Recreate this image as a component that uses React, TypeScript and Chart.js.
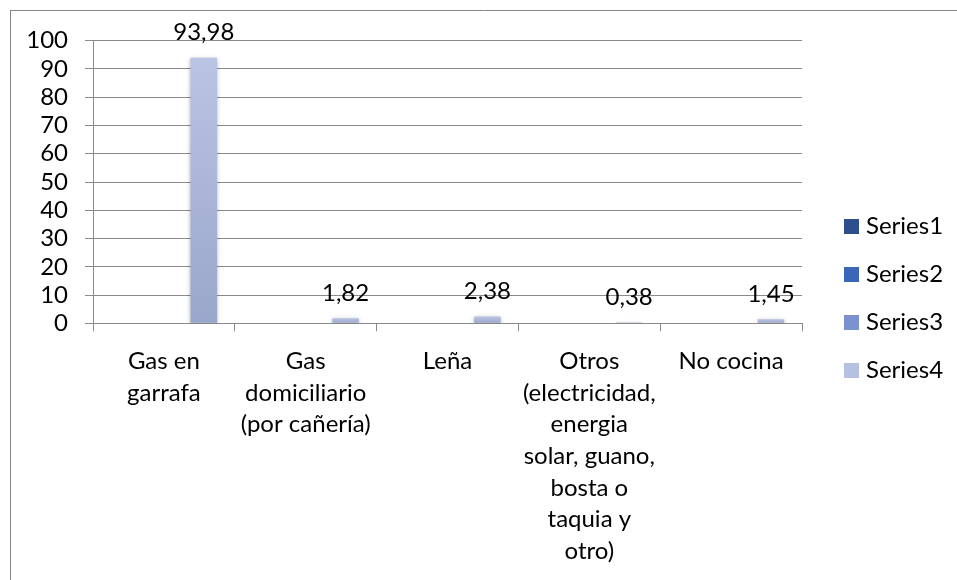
import React, { useEffect, useRef } from 'react';
import { Chart, registerables } from 'chart.js';

Chart.register(...registerables);

// ---- data ----
const categories: string[][] = [
  ['Gas en', 'garrafa'],
  ['Gas', 'domiciliario', '(por cañería)'],
  ['Leña'],
  ['Otros', '(electricidad,', 'energia', 'solar, guano,', 'bosta o', 'taquia y', 'otro)'],
  ['No cocina'],
];
const seriesNames = ['Series1', 'Series2', 'Series3', 'Series4'];
const series1: (number | null)[] = [null, null, null, null, null];
const series2: (number | null)[] = [null, null, null, null, null];
const series3: (number | null)[] = [null, null, null, null, null];
const series4: (number | null)[] = [93.98, 1.82, 2.38, 0.38, 1.45];
const yMin = 0;
const yMax = 100;
const yStep = 10;

// ---- styles ----
const FONT = 'Lato, "Open Sans", sans-serif';
const FONT_SIZE = 24;
const GRID = '#8a8a8a';
const legendColors = ['#2e4d8d', '#3c67b9', '#7a92cf', '#b6c1e1'];
const barTop = '#bac4e4';
const barBottom = '#9aa6cb';

function fmt(v: number) {
  return v.toFixed(2).replace('.', ',');
}

const framePlugin = {
  id: 'frame',
  beforeDraw(chart: any) {
    const ctx = chart.ctx;
    ctx.save();
    ctx.fillStyle = '#ffffff';
    ctx.fillRect(0, 0, chart.width, chart.height);
    ctx.strokeStyle = '#878787';
    ctx.lineWidth = 1;
    ctx.beginPath();
    ctx.moveTo(10, 10.5);
    ctx.lineTo(chart.width, 10.5);
    ctx.moveTo(10.5, 10);
    ctx.lineTo(10.5, chart.height);
    ctx.stroke();
    ctx.restore();
  },
};

const shadowPlugin = {
  id: 'barShadow',
  beforeDatasetDraw(chart: any) {
    const ctx = chart.ctx;
    ctx.save();
    ctx.shadowColor = 'rgba(0,0,0,0.28)';
    ctx.shadowBlur = 4;
    ctx.shadowOffsetX = 0;
    ctx.shadowOffsetY = 1;
  },
  afterDatasetDraw(chart: any) {
    chart.ctx.restore();
  },
};

const valueLabelPlugin = {
  id: 'valueLabels',
  afterDatasetsDraw(chart: any) {
    const ctx = chart.ctx;
    ctx.save();
    ctx.font = `${FONT_SIZE}px ${FONT}`;
    ctx.fillStyle = '#000';
    ctx.textAlign = 'center';
    ctx.textBaseline = 'middle';
    chart.data.datasets.forEach((ds: any, di: number) => {
      const meta = chart.getDatasetMeta(di);
      meta.data.forEach((el: any, i: number) => {
        const v = ds.data[i];
        if (v === null || v === undefined) return;
        ctx.fillText(fmt(v), el.x, el.y - 25);
      });
    });
    ctx.restore();
  },
};

const legendPlugin = {
  id: 'sideLegend',
  afterDraw(chart: any) {
    const ctx = chart.ctx;
    const x = chart.chartArea.right + 42;
    const firstY = 226.5;
    const gap = 48;
    const box = 15;
    ctx.save();
    ctx.font = `${FONT_SIZE}px ${FONT}`;
    ctx.textBaseline = 'middle';
    ctx.textAlign = 'left';
    chart.data.datasets.forEach((ds: any, i: number) => {
      const y = firstY + i * gap;
      ctx.fillStyle = legendColors[i];
      ctx.fillRect(x, y - box / 2, box, box);
      ctx.fillStyle = '#000';
      ctx.fillText(ds.label, x + box + 7, y);
    });
    ctx.restore();
  },
};

function barGradient(c: any) {
  const chart = c.chart;
  if (c.type !== 'data' || !chart.chartArea || c.raw == null) return barTop;
  const ys = chart.scales.y;
  const top = ys.getPixelForValue(c.raw);
  const bottom = ys.getPixelForValue(0);
  if (!isFinite(top) || bottom - top < 1) return barTop;
  const g = chart.ctx.createLinearGradient(0, top, 0, bottom);
  g.addColorStop(0, barTop);
  g.addColorStop(1, barBottom);
  return g;
}

export default function App() {
  const ref = useRef<HTMLCanvasElement | null>(null);

  useEffect(() => {
    if (!ref.current) return;
    const allSeries = [series1, series2, series3, series4];
    const chart = new Chart(ref.current, {
      type: 'bar',
      data: {
        labels: categories,
        datasets: allSeries.map((d, i) => ({
          label: seriesNames[i],
          data: d,
          backgroundColor: i === 3 ? barGradient : legendColors[i],
          borderWidth: 0,
          barPercentage: 1,
          categoryPercentage: 0.75,
        })),
      },
      options: {
        responsive: false,
        animation: false,
        devicePixelRatio: 1,
        layout: { padding: { top: 40.7, right: 155, bottom: 0, left: 0 } },
        plugins: {
          legend: { display: false },
          tooltip: { enabled: false },
          title: { display: false },
        },
        scales: {
          x: {
            grid: {
              offset: true,
              drawOnChartArea: false,
              drawTicks: true,
              tickLength: 8,
              color: GRID,
            },
            border: { display: true, color: GRID, width: 1 },
            ticks: {
              autoSkip: false,
              maxRotation: 0,
              minRotation: 0,
              padding: 14,
              color: '#000',
              font: { family: FONT, size: FONT_SIZE, lineHeight: 1.32 },
            },
            afterFit(scale: any) {
              scale.height = 580 - 323.3;
            },
          },
          y: {
            min: yMin,
            max: yMax,
            grid: { color: GRID, tickLength: 8, drawTicks: true },
            border: { display: true, color: GRID, width: 1 },
            ticks: {
              stepSize: yStep,
              autoSkip: false,
              padding: 17,
              color: '#000',
              font: { family: FONT, size: FONT_SIZE, lineHeight: 1 },
            },
            afterFit(scale: any) {
              scale.width = 93;
            },
          },
        },
      },
      plugins: [framePlugin, shadowPlugin, valueLabelPlugin, legendPlugin],
    } as any);
    return () => chart.destroy();
  }, []);

  return (
    <div style={{ position: 'absolute', left: 0, top: 0, width: 957, height: 580, background: '#fff' }}>
      <canvas ref={ref} width={957} height={580} style={{ display: 'block', width: 957, height: 580 }} />
    </div>
  );
}
